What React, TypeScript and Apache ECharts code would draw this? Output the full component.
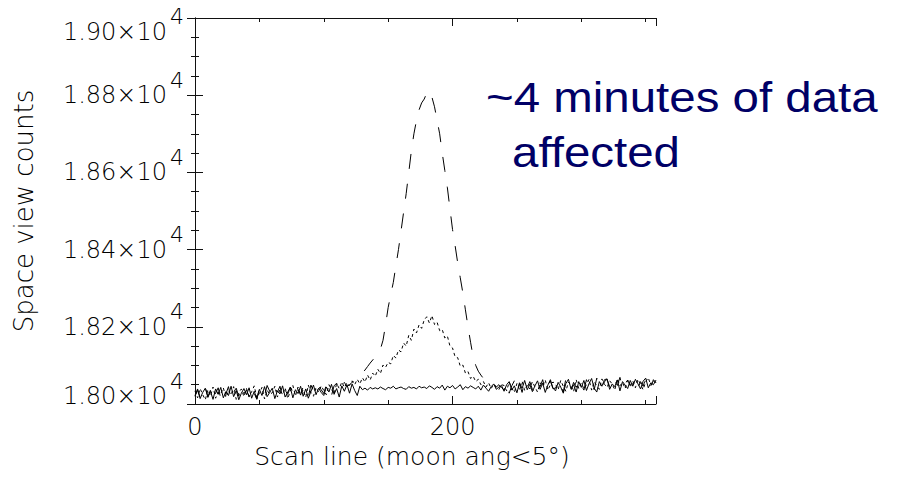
import React, { useEffect, useRef } from "react";
import * as echarts from "echarts";

// Scan line spacing between stored samples
const STEP = 2;

// Solid line: space view counts (scan lines 0..358, every 2nd line)
const solidCounts = [
  18020, 18036, 18014, 18030, 18041, 18017, 18033, 18012, 18039, 18025,
  18043, 18016, 18032, 18022, 18046, 18019, 18035, 18011, 18028, 18040,
  18024, 18042, 18015, 18033, 18013, 18038, 18022, 18045, 18019, 18030,
  18041, 18014, 18034, 18026, 18047, 18018, 18031, 18043, 18016, 18037,
  18027, 18046, 18020, 18039, 18015, 18032, 18049, 18024, 18041, 18030,
  18022, 18044, 18031, 18051, 18025, 18040, 18018, 18047, 18033, 18050,
  18028, 18052, 18035, 18022, 18046, 18037, 18041, 18036, 18043, 18039,
  18042, 18039, 18044, 18040, 18037, 18043, 18041, 18046, 18039, 18042,
  18044, 18040, 18038, 18045, 18041, 18043, 18039, 18046, 18042, 18044,
  18040, 18047, 18043, 18038, 18045, 18041, 18049, 18036, 18046, 18042,
  18048, 18039, 18044, 18050, 18037, 18045, 18041, 18047, 18043, 18039,
  18046, 18036, 18049, 18041, 18033, 18045, 18052, 18038, 18044, 18048,
  18033, 18050, 18058, 18036, 18047, 18029, 18055, 18040, 18061, 18037,
  18051, 18032, 18047, 18060, 18038, 18054, 18030, 18049, 18063, 18041,
  18034, 18056, 18044, 18028, 18053, 18064, 18039, 18050, 18031, 18058,
  18043, 18061, 18035, 18053, 18066, 18041, 18031, 18058, 18046, 18063,
  18065, 18038, 18052, 18045, 18062, 18034, 18058, 18049, 18040, 18061,
  18046, 18064, 18052, 18039, 18059, 18067, 18042, 18055, 18050, 18062,
];

// Dotted line
const dottedCounts = [
  18034, 18016, 18040, 18024, 18011, 18037, 18021, 18044, 18015, 18031,
  18026, 18042, 18017, 18035, 18023, 18045, 18012, 18030, 18039, 18019,
  18040, 18020, 18032, 18047, 18016, 18028, 18043, 18013, 18036, 18025,
  18029, 18046, 18018, 18038, 18024, 18042, 18014, 18033, 18048, 18021,
  18044, 18025, 18037, 18017, 18049, 18030, 18020, 18043, 18031, 18047,
  18035, 18024, 18050, 18038, 18026, 18053, 18040, 18057, 18043, 18055,
  18048, 18060, 18050, 18064, 18052, 18068, 18057, 18075, 18062, 18080,
  18072, 18090, 18079, 18101, 18095, 18108, 18104, 18126, 18119, 18140,
  18135, 18158, 18150, 18178, 18165, 18194, 18184, 18205, 18196, 18218,
  18226, 18210, 18229, 18206, 18212, 18190, 18193, 18171, 18176, 18150,
  18145, 18122, 18120, 18098, 18101, 18080, 18084, 18066, 18072, 18058,
  18064, 18050, 18058, 18044, 18055, 18040, 18052, 18045, 18038, 18050,
  18048, 18034, 18057, 18041, 18030, 18053, 18038, 18059, 18035, 18049,
  18039, 18058, 18044, 18031, 18055, 18046, 18062, 18036, 18050, 18057,
  18052, 18037, 18061, 18046, 18033, 18057, 18048, 18032, 18063, 18040,
  18055, 18039, 18050, 18064, 18036, 18058, 18047, 18038, 18065, 18051,
  18043, 18060, 18052, 18036, 18066, 18047, 18056, 18040, 18062, 18050,
  18059, 18042, 18064, 18051, 18037, 18058, 18068, 18048, 18060, 18053,
];

// Dashed line
const dashedCounts = [
  18022, 18039, 18017, 18033, 18044, 18019, 18036, 18012, 18028, 18042,
  18015, 18037, 18026, 18045, 18013, 18031, 18041, 18020, 18047, 18027,
  18036, 18018, 18043, 18028, 18012, 18041, 18030, 18021, 18048, 18033,
  18019, 18040, 18031, 18046, 18016, 18035, 18025, 18044, 18032, 18017,
  18038, 18023, 18045, 18030, 18018, 18049, 18034, 18026, 18046, 18037,
  18027, 18050, 18036, 18022, 18047, 18054, 18033, 18049, 18056, 18045,
  18050, 18056, 18060, 18066, 18072, 18080, 18088, 18097, 18106, 18114,
  18122, 18131, 18142, 18165, 18205, 18250, 18283, 18315, 18358, 18400,
  18448, 18497, 18545, 18600, 18655, 18700, 18735, 18762, 18780, 18790,
  18806, 18812, 18795, 18770, 18735, 18700, 18650, 18605, 18560, 18505,
  18452, 18410, 18366, 18327, 18288, 18244, 18200, 18160, 18122, 18100,
  18085, 18075, 18066, 18060, 18054, 18051, 18048, 18044, 18050, 18043,
  18036, 18055, 18028, 18047, 18060, 18034, 18052, 18030, 18057, 18042,
  18058, 18038, 18029, 18054, 18045, 18063, 18033, 18049, 18059, 18040,
  18041, 18060, 18048, 18031, 18065, 18046, 18035, 18056, 18043, 18062,
  18050, 18036, 18063, 18046, 18055, 18037, 18067, 18049, 18040, 18058,
  18064, 18045, 18035, 18059, 18048, 18069, 18041, 18053, 18062, 18047,
  18052, 18065, 18041, 18058, 18046, 18066, 18051, 18044, 18063, 18055,
];

const X_MIN = 0;
const X_MAX = 358;
const X_LABELS = [0, 200];
const Y_MIN = 18000;
const Y_MAX = 19000;
const Y_MAJOR = 200;

const xTitle = "Scan line (moon ang<5°)";
const yTitle = "Space view counts";
const noteLine1 = "~4 minutes of data";
const noteLine2 = "affected";

const FONT = "'DejaVu Sans', sans-serif";
const TXT = "#000";
const AX = "#111";

const toPairs = (arr: number[]) => arr.map((v, i) => [i * STEP, v]);

export default function App() {
  const ref = useRef<HTMLDivElement>(null);

  useEffect(() => {
    if (!ref.current) return;
    const chart = echarts.init(ref.current, undefined, { renderer: "svg" });

    const gridRect = { left: 195, top: 18, width: 461, height: 386 };
    const lineAx = { show: true, lineStyle: { color: AX, width: 1 } };

    const yFormatter = (v: number) => {
      const main = `{a|${(v / 10000).toFixed(2)}×10}{s|4}`;
      if (v === Y_MAX) return `{gt| }\n${main}`;
      if (v === Y_MIN) return `${main}\n{gb| }`;
      return main;
    };

    const option: any = {
      animation: false,
      backgroundColor: "#fff",
      grid: [
        { ...gridRect, containLabel: false, outerBoundsMode: "none" },
        { ...gridRect, containLabel: false, outerBoundsMode: "none" },
      ],
      xAxis: [
        {
          type: "value",
          gridIndex: 0,
          position: "bottom",
          min: X_MIN,
          max: X_MAX,
          interval: 50,
          axisLine: lineAx,
          axisTick: { show: true, inside: true, length: 4, lineStyle: { color: AX, width: 1 } },
          splitLine: { show: false },
          axisLabel: {
            show: true,
            margin: 11,
            fontSize: 24,
            fontFamily: FONT,
            fontWeight: 200,
            color: TXT,
            showMaxLabel: false,
            formatter: (v: number) => (X_LABELS.includes(v) ? String(v) : ""),
          },
          name: xTitle,
          nameLocation: "middle",
          nameGap: 31,
          nameTextStyle: {
            fontSize: 25,
            fontFamily: FONT,
            fontWeight: 200,
            color: TXT,
            padding: [0, 27, 0, 0],
          },
        },
        {
          type: "value",
          gridIndex: 0,
          position: "top",
          min: X_MIN,
          max: X_MAX,
          interval: 50,
          axisLine: lineAx,
          axisTick: { show: true, inside: true, length: 4, lineStyle: { color: AX, width: 1 } },
          splitLine: { show: false },
          axisLabel: { show: false },
        },
        {
          type: "value",
          gridIndex: 1,
          position: "bottom",
          min: X_MIN,
          max: X_MAX,
          interval: 200,
          axisLine: { show: false },
          axisTick: { show: true, inside: true, length: 8, lineStyle: { color: AX, width: 1 } },
          splitLine: { show: false },
          axisLabel: { show: false },
        },
        {
          type: "value",
          gridIndex: 1,
          position: "top",
          min: X_MIN,
          max: X_MAX,
          interval: 200,
          axisLine: { show: false },
          axisTick: { show: true, inside: true, length: 8, lineStyle: { color: AX, width: 1 } },
          splitLine: { show: false },
          axisLabel: { show: false },
        },
      ],
      yAxis: [
        {
          type: "value",
          gridIndex: 0,
          position: "left",
          min: Y_MIN,
          max: Y_MAX,
          interval: Y_MAJOR,
          axisLine: lineAx,
          axisTick: { show: true, inside: true, length: 8, lineStyle: { color: AX, width: 1 } },
          minorTick: { show: true, splitNumber: 4, length: 4, lineStyle: { color: AX, width: 1 } },
          splitLine: { show: false },
          axisLabel: {
            show: true,
            margin: 11,
            color: TXT,
            formatter: yFormatter,
            rich: {
              a: { fontSize: 24, lineHeight: 52, fontFamily: FONT, fontWeight: 200, color: TXT },
              s: {
                fontSize: 22,
                lineHeight: 22,
                verticalAlign: "top",
                padding: [0, 0, 0, 3],
                fontFamily: FONT,
                fontWeight: 200,
                color: TXT,
              },
              gt: { fontSize: 10, lineHeight: 27 },
              gb: { fontSize: 10, lineHeight: 16 },
            },
          },
          name: yTitle,
          nameLocation: "middle",
          nameGap: 158,
          nameTextStyle: { fontSize: 26, fontFamily: FONT, fontWeight: 200, color: TXT },
        },
        {
          type: "value",
          gridIndex: 0,
          position: "right",
          min: Y_MIN,
          max: Y_MAX,
          interval: Y_MAJOR,
          axisLine: lineAx,
          axisTick: { show: true, inside: true, length: 8, lineStyle: { color: AX, width: 1 } },
          minorTick: { show: true, splitNumber: 4, length: 4, lineStyle: { color: AX, width: 1 } },
          splitLine: { show: false },
          axisLabel: { show: false },
        },
        {
          type: "value",
          gridIndex: 1,
          min: Y_MIN,
          max: Y_MAX,
          show: false,
        },
      ],
      series: [
        {
          type: "line",
          xAxisIndex: 0,
          yAxisIndex: 0,
          data: toPairs(dashedCounts),
          symbol: "none",
          silent: true,
          lineStyle: { color: "#000", width: 1, type: [15, 15] },
        },
        {
          type: "line",
          xAxisIndex: 0,
          yAxisIndex: 0,
          data: toPairs(dottedCounts),
          symbol: "none",
          silent: true,
          lineStyle: { color: "#000", width: 1, type: [3, 3] },
        },
        {
          type: "line",
          xAxisIndex: 0,
          yAxisIndex: 0,
          data: toPairs(solidCounts),
          symbol: "none",
          silent: true,
          lineStyle: { color: "#000", width: 1, type: "solid" },
        },
      ],
      graphic: [
        {
          type: "rect",
          z: 100,
          shape: { x: 478, y: 53, width: 419, height: 137 },
          style: { fill: "#fff" },
        },
        {
          type: "text",
          z: 101,
          x: 486,
          y: 97,
          scaleX: 1.13,
          style: {
            text: noteLine1,
            x: 0,
            y: 0,
            fontSize: 42,
            fontFamily: "'Liberation Sans', Arial, sans-serif",
            fill: "#000066",
            align: "left",
            verticalAlign: "middle",
          },
        },
        {
          type: "text",
          z: 101,
          x: 512,
          y: 152,
          scaleX: 1.13,
          style: {
            text: noteLine2,
            x: 0,
            y: 0,
            fontSize: 42,
            fontFamily: "'Liberation Sans', Arial, sans-serif",
            fill: "#000066",
            align: "left",
            verticalAlign: "middle",
          },
        },
      ],
    };

    chart.setOption(option);
    return () => chart.dispose();
  }, []);

  return (
    <div
      ref={ref}
      style={{ position: "absolute", left: 0, top: 0, width: 897, height: 478 }}
    />
  );
}
